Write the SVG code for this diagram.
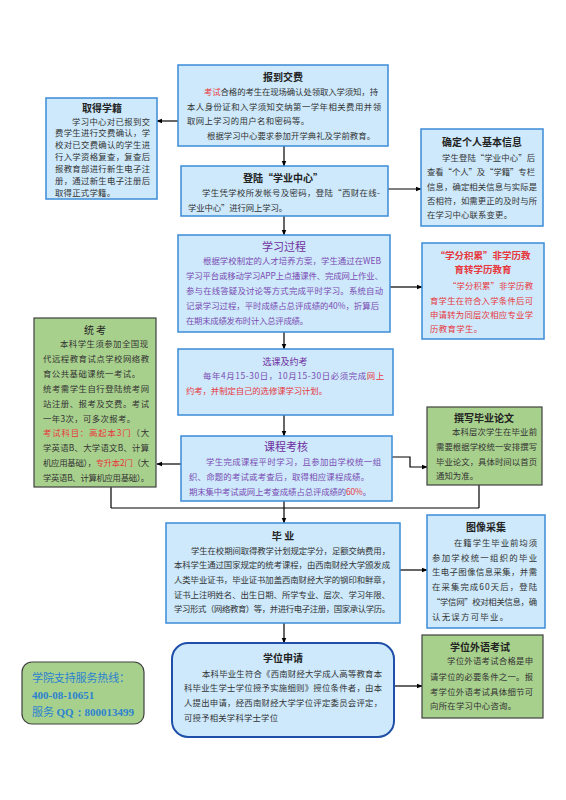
<svg xmlns="http://www.w3.org/2000/svg" width="566" height="800" viewBox="0 0 566 800">
<defs>
<marker id="ah" viewBox="0 0 10 10" refX="9" refY="5" markerWidth="6" markerHeight="6" orient="auto" markerUnits="userSpaceOnUse">
<path d="M0,1 L10,5 L0,9 Z" fill="#000"/>
</marker>
<style>
.bb{fill:#cde9fb;stroke:#3b8bd6;stroke-width:1.5}
.bd{fill:#cde9fb;stroke:#1f4fa8;stroke-width:2}
.gb{fill:#a8d08d;stroke:#404040;stroke-width:1.2}
text{font-family:"Noto Sans CJK SC","Noto Sans",sans-serif;font-size:8.4px;fill:#333}
.t{font-size:10px;font-weight:bold;fill:#222;text-anchor:middle}
.p{fill:#7b4bb3}
.pt{font-size:11px;fill:#7030a0;text-anchor:middle}
.r{fill:#e8383d}
.rt{font-size:9.5px;font-weight:bold;fill:#e8383d;text-anchor:middle}
.h{font-size:11px;fill:#2b82d0}
.hb{font-size:11px;fill:#2b82d0;font-weight:bold;font-family:"Liberation Serif",serif}
.c{stroke:#000;stroke-width:1.2;fill:none}
</style>
</defs>
<rect width="566" height="800" fill="#fff"/>

<g id="connectors">
<line class="c" x1="284" y1="146" x2="284" y2="166" marker-end="url(#ah)"/>
<line class="c" x1="178" y1="121" x2="157" y2="121" marker-end="url(#ah)"/>
<line class="c" x1="388" y1="189" x2="421" y2="189" marker-end="url(#ah)"/>
<line class="c" x1="284" y1="216" x2="284" y2="235" marker-end="url(#ah)"/>
<line class="c" x1="390" y1="287" x2="422" y2="287" marker-end="url(#ah)"/>
<line class="c" x1="284" y1="332" x2="284" y2="349" marker-end="url(#ah)"/>
<line class="c" x1="284" y1="415" x2="284" y2="436" marker-end="url(#ah)"/>
<line class="c" x1="181" y1="464" x2="157" y2="464" marker-end="url(#ah)"/>
<polyline class="c" points="392,457 410,457 410,467 427,467" marker-end="url(#ah)"/>
<line class="c" x1="111" y1="487" x2="111" y2="508"/>
<line class="c" x1="479" y1="485" x2="479" y2="508"/>
<line class="c" x1="284" y1="501" x2="284" y2="508"/>
<line class="c" x1="111" y1="508" x2="479" y2="508"/>
<line class="c" x1="284" y1="508" x2="284" y2="523" marker-end="url(#ah)"/>
<line class="c" x1="400" y1="570" x2="427" y2="570" marker-end="url(#ah)"/>
<line class="c" x1="284" y1="623" x2="284" y2="643" marker-end="url(#ah)"/>
<line class="c" x1="394" y1="686" x2="422" y2="686" marker-end="url(#ah)"/>
</g>

<g id="n-baodao">
<rect class="bb" x="178" y="65" width="210" height="81"/>
<text class="t" x="283" y="81">报到交费</text>
<text x="204" y="95" textLength="174"><tspan class="r">考试</tspan>合格的考生在现场确认处领取入学须知，持</text>
<text x="187" y="110" textLength="194">本人身份证和入学须知交纳第一学年相关费用并领</text>
<text x="187" y="124" textLength="122">取网上学习的用户名和密码等。</text>
<text x="207" y="139" textLength="168">根据学习中心要求参加开学典礼及学前教育。</text>
</g>

<g id="n-xueji">
<rect class="bb" x="46" y="98" width="111" height="101"/>
<text class="t" x="102" y="112">取得学籍</text>
<text x="72" y="124.5" textLength="78">学习中心对已报到交</text>
<text x="55" y="136.4" textLength="95">费学生进行交费确认，学</text>
<text x="55" y="148.3" textLength="95">校对已交费确认的学生进</text>
<text x="55" y="160.2" textLength="95">行入学资格复查，复查后</text>
<text x="55" y="172.1" textLength="95">报教育部进行新生电子注</text>
<text x="55" y="184" textLength="95">册，通过新生电子注册后</text>
<text x="55" y="195.9" textLength="60">取得正式学籍。</text>
</g>

<g id="n-xinxi">
<rect class="bb" x="421" y="129" width="122" height="97"/>
<text class="t" x="482" y="146">确定个人基本信息</text>
<text x="442" y="161" textLength="93">学生登陆“学业中心”后</text>
<text x="427" y="175" textLength="108">查看“个人”及“学籍”专栏</text>
<text x="427" y="190" textLength="110">信息，确定相关信息与实际是</text>
<text x="427" y="204" textLength="110">否相符，如需更正的及时与所</text>
<text x="427" y="218" textLength="85">在学习中心联系变更。</text>
</g>

<g id="n-denglu">
<rect class="bb" x="181" y="166" width="207" height="50"/>
<text class="t" x="283" y="182">登陆“学业中心”</text>
<text x="202" y="196" textLength="178">学生凭学校所发帐号及密码，登陆“西财在线-</text>
<text x="188" y="211" textLength="99">学业中心”进行网上学习。</text>
</g>

<g id="n-xuexi">
<rect class="bb" x="178" y="235" width="212" height="97"/>
<text class="pt" x="284" y="251">学习过程</text>
<text class="p" x="203" y="264" textLength="178">根据学校制定的人才培养方案，学生通过在WEB</text>
<text class="p" x="186" y="279" textLength="197">学习平台或移动学习APP上点播课件、完成网上作业、</text>
<text class="p" x="186" y="294" textLength="197">参与在线答疑及讨论等方式完成平时学习。系统自动</text>
<text class="p" x="186" y="309" textLength="193">记录学习过程，平时成绩占总评成绩的40%，折算后</text>
<text class="p" x="186" y="324" textLength="122">在期末成绩发布时计入总评成绩。</text>
</g>

<g id="n-xuefen">
<rect class="bb" x="422" y="243" width="122" height="96"/>
<text class="rt" x="483" y="259">“学分积累”非学历教</text>
<text class="rt" x="483" y="272.5">育转学历教育</text>
<text class="r" x="448" y="289" textLength="85">“学分积累”非学历教</text>
<text class="r" x="430" y="304" textLength="103">育学生在符合入学条件后可</text>
<text class="r" x="430" y="318" textLength="103">申请转为同层次相应专业学</text>
<text class="r" x="430" y="332" textLength="52">历教育学生。</text>
</g>

<g id="n-tongkao">
<rect class="gb" x="34" y="318" width="122" height="169"/>
<text class="t" x="95" y="334" style="font-weight:normal">统 考</text>
<text x="60" y="347" textLength="88">本科学生须参加全国现</text>
<text x="43" y="361.9" textLength="106">代远程教育试点学校网络教</text>
<text x="43" y="376.8" textLength="97">育公共基础课统一考试。</text>
<text x="43" y="391.7" textLength="106">统考需学生自行登陆统考网</text>
<text x="43" y="406.6" textLength="106">站注册、报考及交费。考试</text>
<text x="43" y="421.5" textLength="92">一年3次，可多次报考。</text>
<text x="43" y="436.4" textLength="106"><tspan class="r">考试科目：高起本3门</tspan>（大</text>
<text x="43" y="451.3" textLength="106">学英语B、大学语文B、计算</text>
<text x="43" y="466.2" textLength="106">机应用基础），<tspan class="r">专升本2门</tspan>（大</text>
<text x="43" y="481.1" textLength="106">学英语B、计算机应用基础）。</text>
</g>

<g id="n-xuanke">
<rect class="bb" x="178" y="349" width="215" height="66"/>
<text class="pt" x="285" y="365" style="font-size:9px">选课及约考</text>
<text class="p" x="203" y="379" textLength="181">每年4月15-30日，10月15-30日必须完成<tspan class="r">网上</tspan></text>
<text class="r" x="186" y="394" textLength="141">约考，并制定自己的选修课学习计划。</text>
</g>

<g id="n-kaohe">
<rect class="bb" x="181" y="436" width="211" height="65"/>
<text class="pt" x="286" y="451">课程考核</text>
<text class="p" x="206" y="465" textLength="175">学生完成课程平时学习，且参加由学校统一组</text>
<text class="p" x="189" y="480" textLength="180">织、命题的考试或考查后，取得相应课程成绩。</text>
<text class="p" x="189" y="495" textLength="182">期末集中考试或网上考查成绩占总评成绩的<tspan class="r">60%</tspan>。</text>
</g>

<g id="n-lunwen">
<rect class="gb" x="427" y="407" width="115" height="78"/>
<text class="t" x="484" y="422">撰写毕业论文</text>
<text x="452" y="435" textLength="85">本科层次学生在毕业前</text>
<text x="436" y="450" textLength="101">需要根据学校统一安排撰写</text>
<text x="436" y="465" textLength="101">毕业论文，具体时间以首页</text>
<text x="436" y="479" textLength="42">通知为准。</text>
</g>

<g id="n-biye">
<rect class="bb" x="166" y="523" width="234" height="100"/>
<text class="t" x="283" y="540">毕 业</text>
<text x="191" y="554" textLength="199">学生在校期间取得教学计划规定学分，足额交纳费用，</text>
<text x="174" y="568" textLength="216">本科学生通过国家规定的统考课程，由西南财经大学颁发成</text>
<text x="174" y="583" textLength="216">人类毕业证书，毕业证书加盖西南财经大学的钢印和鲜章，</text>
<text x="174" y="598" textLength="216">证书上注明姓名、出生日期、所学专业、层次、学习年限、</text>
<text x="174" y="612" textLength="216">学习形式（网络教育）等，并进行电子注册，国家承认学历。</text>
</g>

<g id="n-tuxiang">
<rect class="bb" x="427" y="515" width="118" height="113"/>
<text class="t" x="486" y="531">图像采集</text>
<text x="454" y="546" textLength="83">在籍学生毕业前均须</text>
<text x="432" y="561" textLength="105">参加学校统一组织的毕业</text>
<text x="432" y="575" textLength="105">生电子图像信息采集，并需</text>
<text x="432" y="590" textLength="105">在采集完成60天后，登陆</text>
<text x="432" y="605" textLength="105">“学信网”校对相关信息，确</text>
<text x="432" y="620" textLength="76">认无误方可毕业。</text>
</g>

<g id="n-xuewei">
<rect class="bd" x="172" y="643" width="222" height="94" rx="16"/>
<text class="t" x="283" y="662">学位申请</text>
<text x="202" y="677" textLength="180">本科毕业生符合《西南财经大学成人高等教育本</text>
<text x="184" y="691" textLength="198">科毕业生学士学位授予实施细则》授位条件者，由本</text>
<text x="184" y="706" textLength="198">人提出申请，经西南财经大学学位评定委员会评定，</text>
<text x="184" y="721" textLength="94">可授予相关学科学士学位</text>
</g>

<g id="n-waiyu">
<rect class="gb" x="422" y="635" width="121" height="83"/>
<text class="t" x="480" y="651">学位外语考试</text>
<text x="447" y="664" textLength="86">学位外语考试合格是申</text>
<text x="430" y="680" textLength="103">请学位的必要条件之一。报</text>
<text x="430" y="695" textLength="103">考学位外语考试具体细节可</text>
<text x="430" y="709" textLength="86">向所在学习中心咨询。</text>
</g>

<g id="n-hotline">
<rect class="gb" x="22" y="662" width="122" height="62" rx="10"/>
<text class="h" x="32" y="682" textLength="98">学院支持服务热线：</text>
<text class="hb" x="32" y="699">400-08-10651</text>
<text class="h" x="32" y="716">服务 <tspan class="hb">QQ：800013499</tspan></text>
</g>
</svg>
